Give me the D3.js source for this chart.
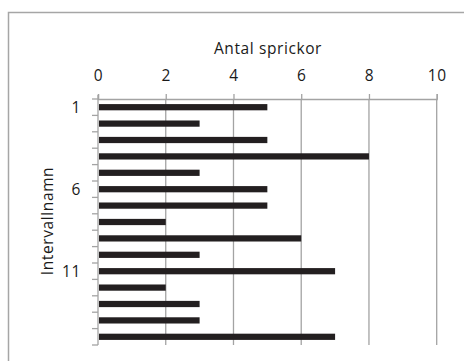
<!DOCTYPE html>
<html>
<head>
<meta charset="utf-8">
<script src="https://cdn.jsdelivr.net/npm/d3@7"></script>
<style>
  html, body { margin: 0; padding: 0; background: #fff; }
  svg { display: block; }
  text { font-family: "Open Sans", sans-serif; fill: #1a1a1a; letter-spacing: 0.6px; }
</style>
</head>
<body>
<svg id="chart" width="464" height="361"></svg>
<script>
const categories = ["1","2","3","4","5","6","7","8","9","10","11","12","13","14","15"];
const values = [5, 3, 5, 8, 3, 5, 5, 2, 6, 3, 7, 2, 3, 3, 7];
const xTicks = [0, 2, 4, 6, 8, 10];
const shownCategoryLabels = ["1", "6", "11"];
const xTitle = "Antal sprickor";
const yTitle = "Intervallnamn";

(function () {
const svg = d3.select("#chart");
const pL = 98, pR = 436.7, pT = 99, pB = 345;
const gridColor = "#a3a3a3";
const fs = "15.5px";

// outer frame (left and top edges visible)
svg.append("rect")
  .attr("x", 8.5).attr("y", 12.5)
  .attr("width", 470).attr("height", 360)
  .attr("fill", "none").attr("stroke", "#a6a6a6").attr("stroke-width", 1.5);

const x = d3.scaleLinear().domain([0, 10]).range([pL, pR]);
const y = d3.scaleBand().domain(categories).range([pT, pB]).paddingInner(0.62).paddingOuter(0.31);
const yb = d3.scaleBand().domain(categories).range([pT, pB]);

// vertical gridlines
svg.append("g").selectAll("line").data(xTicks.slice(1)).join("line")
  .attr("x1", d => x(d)).attr("x2", d => x(d))
  .attr("y1", pT).attr("y2", pB)
  .attr("stroke", gridColor).attr("stroke-width", 1.3);

// top axis
const xAxis = svg.append("g").attr("transform", `translate(0,${pT})`)
  .call(d3.axisTop(x).tickValues(xTicks).tickSize(5).tickPadding(13).tickFormat(d3.format("d")));
xAxis.select(".domain").attr("stroke", gridColor).attr("stroke-width", 1.3);
xAxis.selectAll(".tick line").attr("stroke", gridColor).attr("stroke-width", 1.3);
xAxis.selectAll(".tick text").style("font-family", '"Open Sans", sans-serif').style("font-size", fs).attr("fill", "#1a1a1a");

// bars
svg.append("g").selectAll("rect").data(values).join("rect")
  .attr("x", x(0) + 1)
  .attr("y", (d, i) => y(categories[i]))
  .attr("width", d => x(d) - x(0) - 1)
  .attr("height", y.bandwidth())
  .attr("fill", "#231f20");

// left axis
const yAxisG = svg.append("g");
yAxisG.append("line").attr("x1", pL).attr("x2", pL).attr("y1", pT - 4).attr("y2", pB)
  .attr("stroke", gridColor).attr("stroke-width", 1.3);
const boundaries = categories.map(c => yb(c)).concat([pB]);
yAxisG.selectAll("line.tk").data(boundaries).join("line").attr("class", "tk")
  .attr("x1", pL - 6).attr("x2", pL)
  .attr("y1", d => d).attr("y2", d => d)
  .attr("stroke", gridColor).attr("stroke-width", 1.3);
yAxisG.selectAll("text").data(shownCategoryLabels).join("text")
  .attr("x", 81)
  .attr("y", d => yb(d) + yb.bandwidth() / 2)
  .attr("dy", "0.36em")
  .attr("text-anchor", "end")
  .style("font-size", fs)
  .text(d => d);

// titles
svg.append("text").attr("x", 268).attr("y", 54).attr("text-anchor", "middle")
  .style("font-size", fs).text(xTitle);
svg.append("text").attr("transform", `translate(53,221) rotate(-90)`).attr("text-anchor", "middle")
  .style("font-size", fs).text(yTitle);
})();
</script>
</body>
</html>
